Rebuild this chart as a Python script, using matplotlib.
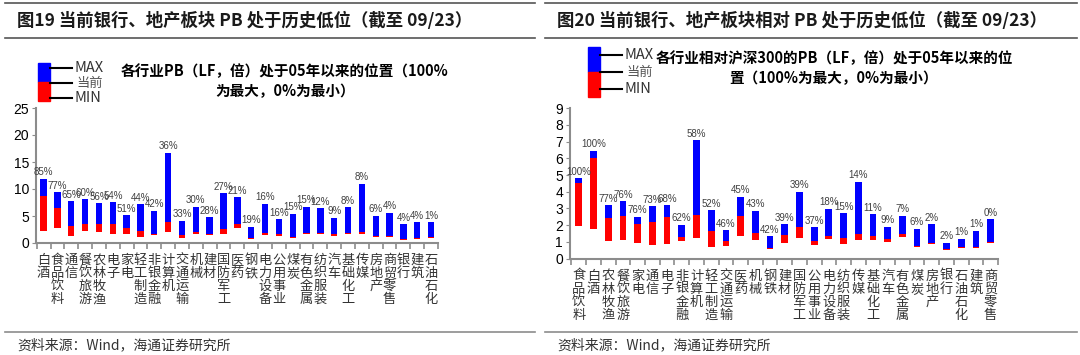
import matplotlib
matplotlib.use('Agg')
import matplotlib.pyplot as plt
from matplotlib.patches import Rectangle
from matplotlib.lines import Line2D
import numpy as np

plt.rcParams['font.family'] = ['Noto Sans CJK SC', 'DejaVu Sans']

# ---- left chart: PB level by industry ----
cats_l = ['白酒', '食品饮料', '通信', '餐饮旅游', '农林牧渔', '电子', '家电', '轻工制造',
          '非银金融', '计算机', '交通运输', '机械', '建材', '国防军工', '医药', '钢铁',
          '电力设备', '公用事业', '煤炭', '有色金属', '纺织服装', '汽车', '基础化工',
          '传媒', '房地产', '商贸零售', '银行', '建筑', '石油石化']
max_l = [11.9, 9.4, 7.7, 8.1, 7.4, 7.6, 5.2, 7.2, 6.0, 16.7, 4.1, 6.7, 4.75, 9.25, 8.45,
         3.0, 7.3, 4.4, 5.4, 6.7, 6.5, 4.7, 6.6, 11.0, 5.05, 5.6, 3.45, 3.9, 3.9]
cur_l = [8.7, 6.5, 3.1, 3.6, 3.5, 3.5, 2.8, 2.3, 1.7, 3.9, 1.5, 2.1, 1.6, 2.6, 3.6,
         0.9, 1.9, 1.6, 1.05, 1.9, 1.8, 1.7, 1.9, 2.0, 1.35, 1.35, 0.8, 1.0, 1.05]
min_l = [2.3, 2.8, 1.35, 2.2, 2.0, 1.7, 1.7, 1.2, 1.4, 2.0, 1.0, 1.6, 1.4, 1.7, 2.8,
         0.7, 1.5, 1.35, 0.85, 1.6, 1.6, 1.35, 1.6, 1.6, 1.05, 1.15, 0.6, 0.8, 0.95]
pct_l = ['85%', '77%', '65%', '60%', '56%', '54%', '51%', '44%', '42%', '36%', '33%', '30%',
         '28%', '27%', '21%', '19%', '16%', '16%', '15%', '15%', '12%', '9%', '8%', '8%',
         '6%', '4%', '4%', '4%', '1%']

# ---- right chart: PB relative to CSI 300 ----
cats_r = ['食品饮料', '白酒', '农林牧渔', '餐饮旅游', '家电', '通信', '电子', '非银金融',
          '计算机', '轻工制造', '交通运输', '医药', '机械', '钢铁', '建材', '国防军工',
          '公用事业', '电力设备', '纺织服装', '传媒', '基础化工', '汽车', '有色金属',
          '煤炭', '房地产', '银行', '石油石化', '建筑', '商贸零售']
max_r = [4.8, 6.45, 3.2, 3.45, 2.5, 3.15, 3.2, 2.02, 7.1, 2.9, 1.7, 3.7, 2.86, 1.35,
         2.05, 4.0, 1.87, 2.98, 2.7, 4.6, 2.66, 1.9, 2.56, 1.78, 2.05, 0.95, 1.19, 1.67, 2.35]
cur_r = [4.5, 6.0, 2.45, 2.55, 2.08, 2.2, 2.48, 1.29, 2.62, 1.67, 1.07, 2.55, 1.5, 0.63,
         1.39, 1.87, 1.05, 1.35, 1.23, 1.47, 1.37, 1.15, 1.48, 0.75, 0.95, 0.55, 0.69, 0.69, 0.97]
min_r = [1.95, 1.77, 1.07, 1.08, 0.93, 0.83, 0.89, 1.07, 1.25, 0.71, 0.75, 1.33, 1.1, 0.55,
         0.93, 1.25, 0.81, 1.19, 0.89, 1.13, 1.09, 0.97, 1.27, 0.69, 0.87, 0.49, 0.65, 0.63, 0.91]
pct_r = ['100%', '100%', '77%', '76%', '76%', '73%', '68%', '62%', '58%', '52%', '46%', '45%',
         '43%', '42%', '39%', '39%', '37%', '18%', '15%', '14%', '11%', '9%', '7%', '6%',
         '2%', '2%', '1%', '1%', '0%']

BLUE = '#0000ff'
RED = '#ff0000'
GRAY = '#8c8c8c'
W, H = 1080, 355

fig = plt.figure(figsize=(10.8, 3.55), dpi=100)


def fx(px):
    return px / W


def fy(py):
    return 1 - py / H


def draw_bars(ax, cats, mx, cur, mn, pct, ymax, step, xlim):
    x = np.arange(len(cats))
    mx, cur, mn = np.array(mx), np.array(cur), np.array(mn)
    ax.bar(x, cur - mn, bottom=mn, width=0.46, color=RED, zorder=2)
    ax.bar(x, mx - cur, bottom=cur, width=0.46, color=BLUE, zorder=2)
    for xi, top, lab in zip(x, mx, pct):
        ax.annotate(lab, (xi, top), xytext=(0, 1), textcoords='offset points',
                    ha='center', va='bottom', fontsize=7, color='#404040',
                    family=['Liberation Sans', 'DejaVu Sans'])
    ax.set_xlim(*xlim)
    ax.set_ylim(0, ymax)
    ax.set_yticks(np.arange(0, ymax + 0.01, step))
    ax.set_xticks(x)
    ax.set_xticklabels(['\n'.join(c) for c in cats], fontsize=9.5, linespacing=1.0,
                       va='top', color='#333333')
    ax.set_xticks(np.arange(len(cats) + 1) - 0.5, minor=True)
    ax.tick_params(axis='x', which='major', length=0, pad=8)
    ax.tick_params(axis='x', which='minor', length=4, color=GRAY, width=1.2)
    ax.tick_params(axis='y', length=3, color=GRAY, labelsize=10, pad=2)
    for lab in ax.get_yticklabels():
        lab.set_family(['Liberation Sans', 'DejaVu Sans'])
    for s in ['top', 'right']:
        ax.spines[s].set_visible(False)
    for s in ['left', 'bottom']:
        ax.spines[s].set_color(GRAY)
        ax.spines[s].set_linewidth(1.5)


def frame(x0, x1, title):
    fig.add_artist(Line2D([fx(x0), fx(x1)], [fy(3), fy(3)], color='#555555', lw=1.2))
    fig.add_artist(Line2D([fx(x0), fx(x1)], [fy(38), fy(38)], color='#555555', lw=1.2))
    fig.add_artist(Line2D([fx(x0), fx(x1)], [fy(332), fy(332)], color=GRAY, lw=1.2))
    fig.text(fx(x0 + 12), fy(21), title, fontsize=12.5, fontweight='bold',
             va='center', ha='left', color='#1a1a1a')
    fig.text(fx(x0 + 12), fy(345), '资料来源：Wind，海通证券研究所', fontsize=10,
             va='center', ha='left', color='#333333')


def legend(x0, ytop, ymid, ybot, ymax_line, ymid_line, ymin_line):
    fig.add_artist(Rectangle((fx(x0), fy(ymid)), fx(12), (ymid - ytop) / H, color=BLUE))
    fig.add_artist(Rectangle((fx(x0), fy(ybot)), fx(12), (ybot - ymid) / H, color=RED))
    for yy in [ymax_line, ymid_line, ymin_line]:
        fig.add_artist(Line2D([fx(x0 + 12), fx(x0 + 34)], [fy(yy), fy(yy)], color='black', lw=1.5))
    fig.text(fx(x0 + 37), fy(ymax_line), 'MAX', fontsize=10.5, va='center', color='#333333')
    fig.text(fx(x0 + 38), fy(ymid_line), '当前', fontsize=9.5, va='center', color='#555555')
    fig.text(fx(x0 + 37), fy(ymin_line), 'MIN', fontsize=10.5, va='center', color='#333333')


# left panel
frame(5, 535, '图19 当前银行、地产板块 PB 处于历史低位（截至 09/23）')
ax1 = fig.add_axes([fx(36), fy(243), fx(402), 135 / H])
draw_bars(ax1, cats_l, max_l, cur_l, min_l, pct_l, 25, 5, (-0.55, 28.45))
legend(38, 63, 82, 101, 68, 83, 98)
fig.text(fx(285), fy(81), '各行业PB（LF，倍）处于05年以来的位置（100%\n为最大，0%为最小）',
         fontsize=10.5, fontweight='bold', ha='center', va='center', linespacing=1.3)

# right panel
frame(545, 1077, '图20 当前银行、地产板块相对 PB 处于历史低位（截至 09/23）')
ax2 = fig.add_axes([fx(570), fy(258.5), fx(428), 150.2 / H])
draw_bars(ax2, cats_r, max_r, cur_r, min_r, pct_r, 9, 1, (-0.6, 28.5))
legend(588, 47, 72, 97, 55, 72, 89)
fig.text(fx(834), fy(68), '各行业相对沪深300的PB（LF，倍）处于05年以来的位\n置（100%为最大，0%为最小）',
         fontsize=10.5, fontweight='bold', ha='center', va='center', linespacing=1.3)

fig.savefig('out.png', dpi=100)
